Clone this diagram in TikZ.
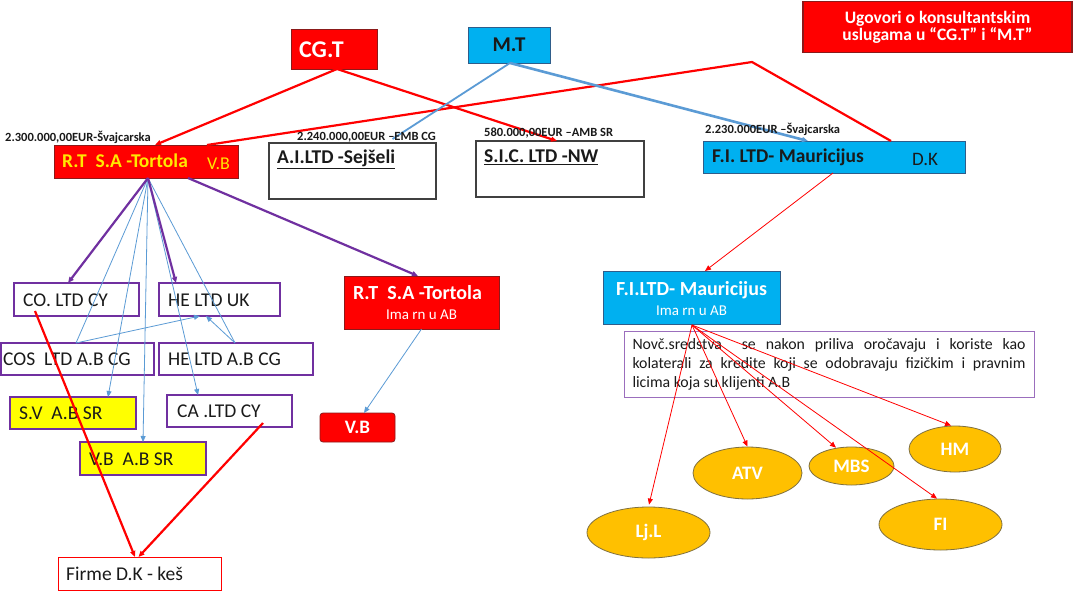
\documentclass[tikz,border=0pt]{standalone}
\usepackage{fontspec}
\setmainfont{Carlito}
\usetikzlibrary{arrows.meta,shapes.geometric,calc}
\definecolor{rd}{HTML}{FF0000}
\definecolor{rdb}{HTML}{8B1A1A}
\definecolor{cy}{HTML}{00B0F0}
\definecolor{cyb}{HTML}{2F5D8A}
\definecolor{pu}{HTML}{7030A0}
\definecolor{yl}{HTML}{FFFF00}
\definecolor{gd}{HTML}{FFC000}
\definecolor{gdb}{HTML}{7F7040}
\definecolor{bl}{HTML}{5B9BD5}
\definecolor{yt}{HTML}{FFE800}
\definecolor{tx}{HTML}{1A1A1A}
\tikzset{
  bx/.style={draw, rectangle, inner sep=0pt, outer sep=0pt},
  redbox/.style={bx, fill=rd, draw=rdb, line width=0.8pt},
  cybox/.style={bx, fill=cy, draw=cyb, line width=0.8pt},
  whbox/.style={bx, fill=white, draw=black!75, line width=1.3pt},
  pubox/.style={bx, fill=white, draw=pu, line width=2pt},
  ylbox/.style={bx, fill=yl, draw=pu, line width=2pt},
  ell/.style={ellipse, fill=gd, draw=gdb, line width=0.8pt, inner sep=0pt, text=white, font=\bfseries\fontsize{19}{21}\selectfont},
  amt/.style={font=\bfseries\fontsize{12.5}{14}\selectfont, text=tx, inner sep=0pt, anchor=west},
  lbl/.style={inner sep=0pt, anchor=west, text=tx, font=\fontsize{19.5}{22}\selectfont},
  btxt/.style={inner sep=0pt, anchor=west, font=\bfseries\fontsize{19.5}{22}\selectfont},
  ttl/.style={inner sep=0pt, text=white, font=\bfseries\fontsize{20}{22}\selectfont},
  sub/.style={inner sep=0pt, text=white, font=\fontsize{15}{17}\selectfont},
  tip/.style={-{Triangle[length=6pt,width=5pt]}},
  redthick/.style={draw=rd, line width=2.2pt},
  redthin/.style={draw=rd, line width=0.8pt},
  purple/.style={draw=pu, line width=2.2pt},
  blthin/.style={draw=bl, line width=0.8pt},
  blthick/.style={draw=bl, line width=2.6pt},
}
\begin{document}
\begin{tikzpicture}[x=1pt,y=-1pt]
\useasboundingbox (0,0) rectangle (1074,600);
\fill[white] (0,0) rectangle (1074,600);

% title
\node[bx, fill=rd, draw=rdb, line width=1.6pt, minimum width=269pt, minimum height=51pt, text=white, align=center, font=\bfseries\fontsize{17.5}{17}\selectfont] (title) at (937.5,27) {Ugovori o konsultantskim\\uslugama u “CG.T” i “M.T”};

% top nodes
\node[redbox, minimum width=86pt, minimum height=40pt] (cgt) at (334,49) {};
\node[btxt, text=white, font=\bfseries\fontsize{24}{26}\selectfont] (cgttxt) at (299,50) {CG.T};
\node[cybox, minimum width=82pt, minimum height=36pt, text=tx, font=\bfseries\fontsize{21}{23}\selectfont] (mt) at (509,45) {M.T};

\node[redbox, minimum width=184pt, minimum height=33pt] (rt) at (146,161.5) {};
\node[btxt, text=yt] (rttxt) at (62,161) {R.T\ \ S.A -Tortola};
\node[inner sep=0pt, anchor=west, text=yt, font=\fontsize{18}{20}\selectfont] (rtvb) at (207,164) {V.B};

\node[whbox, minimum width=167pt, minimum height=56pt] (ai) at (352.5,171) {};
\node[btxt, text=tx] (aitxt) at (277,159) {\underline{A.I.LTD -Sejšeli}};
\node[whbox, minimum width=168pt, minimum height=56pt] (sic) at (560,169) {};
\node[btxt, text=tx] (sictxt) at (484,157) {\underline{S.I.C. LTD -NW}};

\node[cybox, minimum width=262pt, minimum height=32pt] (fi) at (834,157) {};
\node[btxt, text=tx] (fitxt) at (712,157) {F.I. LTD- Mauricijus};
\node[inner sep=0pt, anchor=west, text=tx, font=\fontsize{19}{21}\selectfont] (fidk) at (912,159) {D.K};

% left group
\node[pubox, minimum width=125pt, minimum height=33pt] (co) at (76.5,299.5) {};
\node[lbl] (cotxt) at (23,300) {CO. LTD CY};
\node[pubox, minimum width=121pt, minimum height=33pt] (heuk) at (219.5,299.5) {};
\node[lbl] (heuktxt) at (168,300) {HE LTD UK};
\node[pubox, minimum width=153pt, minimum height=32pt] (cos) at (77.5,359) {};
\node[lbl] (costxt) at (3,359) {COS\ \ LTD A.B CG};
\node[pubox, minimum width=154pt, minimum height=32pt] (heab) at (236,359) {};
\node[lbl] (heabtxt) at (168,359) {HE LTD A.B CG};
\node[ylbox, minimum width=126pt, minimum height=32pt] (sv) at (73,413) {};
\node[lbl] (svtxt) at (19,413) {S.V\ \ A.B SR};
\node[pubox, minimum width=125pt, minimum height=32pt] (ca) at (229.5,411) {};
\node[lbl] (catxt) at (177,411) {CA .LTD CY};
\node[ylbox, minimum width=126pt, minimum height=33pt] (vbab) at (143,458.5) {};
\node[lbl] (vbabtxt) at (89,459) {V.B\ \ A.B SR};
\node[bx, fill=white, draw=rd, line width=0.9pt, minimum width=163pt, minimum height=33pt] (firme) at (139.5,573.5) {};
\node[lbl] (firmetxt) at (66,574) {Firme D.K - keš};

\node[redbox, minimum width=155pt, minimum height=53pt] (rt2) at (421.5,302.5) {};
\node[ttl] (rt2a) at (417.5,293) {R.T\ \ S.A -Tortola};
\node[sub] (rt2b) at (421.5,315) {Ima rn u AB};
\node[bx, fill=rd, draw=rdb, line width=0.8pt, rounded corners=3pt, minimum width=75pt, minimum height=29pt, text=white, font=\bfseries\fontsize{19}{21}\selectfont] (vb) at (357.5,427.5) {V.B};

% right group
\node[cybox, minimum width=177pt, minimum height=53pt] (fi2) at (691.5,297.5) {};
\node[ttl] (fi2a) at (691.5,290) {F.I.LTD- Mauricijus};
\node[sub] (fi2b) at (691.5,311) {Ima rn u AB};
\node[bx, fill=white, draw=pu!70, line width=0.8pt, minimum width=410pt, minimum height=66pt, text width=393pt, align=justify, text=tx, font=\fontsize{15.8}{19}\selectfont] (para) at (829,364) {\hyphenpenalty=10000 Novč.sredstva\ \ se nakon priliva oročavaju i koriste kao\linebreak kolaterali za kredite koji se odobravaju fizičkim i pravnim\linebreak licima koja su klijenti A.B};

\node[ell, minimum width=92pt, minimum height=46pt] (hm) at (955,449) {HM};
\node[ell, minimum width=109pt, minimum height=52pt] (atv) at (747.5,473) {ATV};
\node[ell, minimum width=85pt, minimum height=38pt] (mbs) at (851.5,466) {MBS};
\node[ell, minimum width=123pt, minimum height=51pt] (lj) at (648.5,532.5) {Lj.L};
\node[ell, minimum width=123pt, minimum height=51pt] (fi3) at (940.5,524.5) {FI};

% connectors top
\coordinate (bend) at (752,62);
\coordinate (cgb) at ($(cgt.south)+(3,0)$);
\draw[redthick, tip] (cgb) -- ($(rt.north)+(9,0)$);
\draw[redthick, tip] (cgb) -- ($(sic.north)+(-3,0)$);
\draw[redthick] ($(rt.north east)+(-31,0)$) -- (bend) -- ($(fi.north)+(57,0)$);
\coordinate (mtb) at ($(mt.south)+(1,0)$);
\draw[blthin, line width=1.8pt] (mtb) -- ($(ai.north)+(40,-4)$);
\draw[blthick, tip] (mtb) -- ($(fi.north)+(-26,0)$);

% fan
\coordinate (rtb) at ($(rt.south)+(2,0)$);
\draw[blthin] (rtb) -- ($(cos.north)+(-1.5,0)$);
\draw[blthin] (rtb) -- ($(heab.north)+(-1,0)$);
\draw[blthin, tip] (rtb) -- ($(sv.north)+(35,0)$);
\draw[blthin, tip] (rtb) -- (vbab.north);
\draw[blthin, tip] (rtb) -- ($(ca.north)+(-31.5,0)$);
\draw[blthin, tip] ($(cos.north)+(-1.5,0)$) -- ($(heuk.south)+(-19.5,0)$);
\draw[blthin, tip] ($(heab.north)+(-1,0)$) -- ($(heuk.south)+(-13.5,0)$);
\draw[purple, tip] (rtb) -- ($(co.north)+(-8.5,0)$);
\draw[purple, tip] (rtb) -- ($(heuk.north)+(-43.5,0)$);
\draw[purple, tip] ($(rt.south)+(42,0)$) -- ($(rt2.north)+(-3.5,0)$);
\draw[blthin, tip] (rt2.south) -- ($(vb.north)+(6.5,0)$);
\draw[redthick, tip] ($(co.center)+(-41.5,11.5)$) -- ($(firme.north)+(-4.5,0)$);
\draw[redthick, tip] ($(ca.center)+(33.5,12)$) -- ($(firme.north)+(-1,0)$);

% right connectors
\draw[redthin, tip] ($(fi.south)+(-1,0)$) -- ($(fi2.north)+(13.5,0)$);
\coordinate (fib) at ($(fi2.south)+(0.5,1)$);
\draw[redthin, tip] (fib) -- ($(lj.north)+(0.5,-2)$);
\draw[redthin, tip] (fib) -- (atv.north);
\draw[redthin, tip] (fib) -- ($(mbs.north)+(-15.5,1)$);
\draw[redthin, tip] (fib) -- ($(hm.north)+(-4,0)$);
\draw[redthin, tip] (fib) -- ($(fi3.north)+(-3.5,0)$);

% amount labels
\node[amt] (a1) at (5,137) {2.300.000,00EUR-Švajcarska};
\node[amt] (a2) at (297,137) {2.240.000,00EUR –EMB CG};
\node[amt] (a3) at (484,133) {580.000,00EUR –AMB SR};
\node[amt] (a4) at (705,129) {2.230.000EUR –Švajcarska};
\end{tikzpicture}
\end{document}
